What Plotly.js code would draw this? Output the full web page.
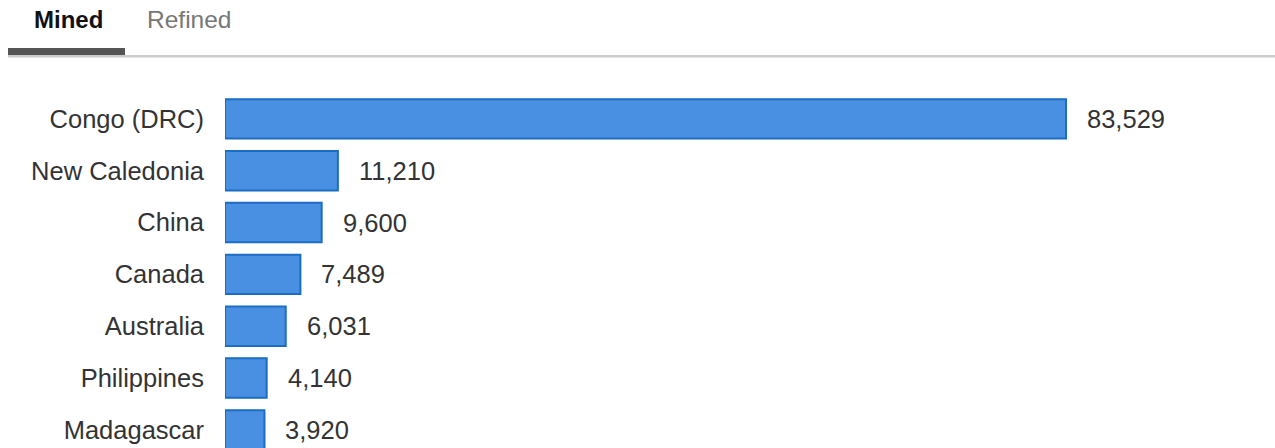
<!DOCTYPE html>
<html>
<head>
<meta charset="utf-8">
<script src="https://cdn.plot.ly/plotly-3.0.1.min.js"></script>
<style>
  html, body { margin: 0; padding: 0; background: #fff; }
  #chart { width: 1275px; height: 448px; }
</style>
</head>
<body>
<div id="chart"></div>
<script>
const countries = ["Congo (DRC)", "New Caledonia", "China", "Canada", "Australia", "Philippines", "Madagascar"];
const mined = [83529, 11210, 9600, 7489, 6031, 4140, 3920];
const tabs = ["Mined", "Refined"];

const W = 1275, H = 448;
const FONT = "Liberation Sans, Arial, Helvetica, sans-serif";

const trace = {
  type: "bar",
  orientation: "h",
  x: mined,
  y: countries,
  marker: { color: "#4a90e2", line: { color: "#1a6dc2", width: 2 } },
  hoverinfo: "none",
  cliponaxis: true
};

const valueAnnotations = mined.map((v, i) => ({
  x: v, y: countries[i], xref: "x", yref: "y",
  text: v.toLocaleString("en-US"),
  showarrow: false, xanchor: "left", yanchor: "middle",
  xshift: 19,
  font: { family: FONT, size: 25.5, color: "#333" }
}));

const tabAnnotations = [
  { x: 32 / W, y: 1 - 20 / H, text: "<b>" + tabs[0] + "</b>", font: { family: FONT, size: 24, color: "#111" } },
  { x: 145 / W, y: 1 - 20 / H, text: tabs[1], font: { family: FONT, size: 24.5, color: "#777" } }
].map(a => Object.assign(a, { xref: "paper", yref: "paper", showarrow: false, xanchor: "left", yanchor: "middle" }));

const layout = {
  width: W, height: H,
  margin: { l: 0, r: 0, t: 0, b: 0 },
  paper_bgcolor: "#fff", plot_bgcolor: "#fff",
  showlegend: false,
  bargap: 0.24,
  xaxis: {
    domain: [225 / W, 1],
    range: [0, 1050 * 83529 / 841],
    showgrid: false, zeroline: false, showticklabels: false, showline: false, fixedrange: true
  },
  yaxis: {
    domain: [0, (H - 93) / H],
    type: "category",
    range: [6.35, -0.5],
    autorange: false,
    showgrid: false, zeroline: false, showline: false, ticks: "",
    ticklabelstandoff: 20,
    tickfont: { family: FONT, size: 25.5, color: "#333" },
    fixedrange: true
  },
  shapes: [
    { type: "rect", xref: "paper", yref: "paper", x0: 8 / W, x1: 1, y0: 1 - 57.5 / H, y1: 1 - 55 / H, fillcolor: "#cccccc", line: { width: 0 } },
    { type: "rect", xref: "paper", yref: "paper", x0: 8 / W, x1: 125 / W, y0: 1 - 55 / H, y1: 1 - 48 / H, fillcolor: "#555555", line: { width: 0 } }
  ],
  annotations: tabAnnotations.concat(valueAnnotations)
};

Plotly.newPlot("chart", [trace], layout, { displayModeBar: false, staticPlot: true });
</script>
</body>
</html>
